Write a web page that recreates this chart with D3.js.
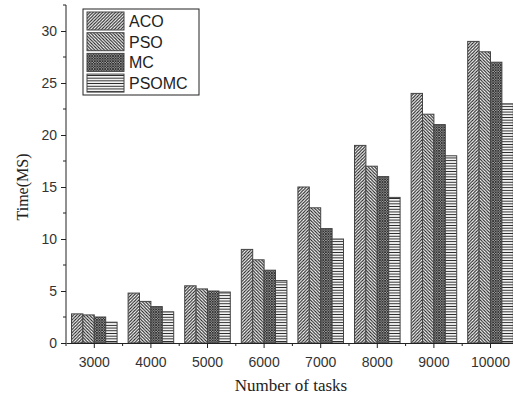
<!DOCTYPE html>
<html>
<head>
<meta charset="utf-8">
<script src="https://cdn.jsdelivr.net/npm/d3@7"></script>
<style>
  body { margin: 0; background: white; }
</style>
</head>
<body>
<div id="container"></div>
<script>
let w = 513;
let h = 397;

// data
let tasks = ["3000", "4000", "5000", "6000", "7000", "8000", "9000", "10000"];
let seriesNames = ["ACO", "PSO", "MC", "PSOMC"];
let aco = [2.8, 4.8, 5.5, 9, 15, 19, 24, 29];
let pso = [2.7, 4.0, 5.2, 8, 13, 17, 22, 28];
let mc = [2.5, 3.5, 5.0, 7, 11, 16, 21, 27];
let psomc = [2.0, 3.0, 4.9, 6, 10, 14, 18, 23];
let yTicks = [0, 5, 10, 15, 20, 25, 30];

let allSeries = [aco, pso, mc, psomc];
let ink = "#333";

let viz = d3.select("#container")
  .append("svg")
    .attr("width", w)
    .attr("height", h)
    .style("background-color", "white")
;

let x0 = 66, y0 = 343;

let x = d3.scaleBand().domain(tasks).range([x0, x0 + 8 * 56.6]).padding(0);
let xs = d3.scaleBand().domain(seriesNames).range([-22.8, 22.8]).padding(0);
let y = d3.scaleLinear().domain([0, 32.5]).range([y0, 5]);

// hatch patterns
let defs = viz.append("defs");
function pat(id, size, d, sw) {
  let p = defs.append("pattern")
    .attr("id", id)
    .attr("patternUnits", "userSpaceOnUse")
    .attr("width", size)
    .attr("height", size);
  p.append("rect").attr("width", size).attr("height", size).attr("fill", "white");
  p.append("path").attr("d", d).attr("stroke", "#222").attr("stroke-width", sw).attr("fill", "none");
}
pat("p0", 3.2, "M-1,1 l2,-2 M0,3.2 l3.2,-3.2 M2.2,4.2 l2,-2", 1.1);
pat("p1", 3.2, "M-1,2.2 l2,2 M0,0 l3.2,3.2 M2.2,-1 l2,2", 1.1);
pat("p2", 2.6, "M-1,1 l2,-2 M0,2.6 l2.6,-2.6 M1.6,3.6 l2,-2 M-1,1.6 l2,2 M0,0 l2.6,2.6 M1.6,-1 l2,2", 0.9);
pat("p3", 2.7, "M0,1.35 H2.7", 1);

// bars
let groups = viz.selectAll(".grp").data(tasks).enter()
  .append("g")
    .attr("class", "grp")
    .attr("transform", d => "translate(" + (x(d) + x.bandwidth() / 2) + ",0)")
;
seriesNames.forEach((s, si) => {
  groups.append("rect")
    .attr("x", xs(s))
    .attr("y", (d, i) => y(allSeries[si][i]))
    .attr("width", xs.bandwidth())
    .attr("height", (d, i) => y0 - y(allSeries[si][i]))
    .attr("fill", "url(#p" + si + ")")
    .attr("stroke", "#444")
    .attr("stroke-width", 1)
  ;
});

// y axis
let yAxis = d3.axisLeft(y).tickValues(yTicks).tickSize(5).tickPadding(4);
let gy = viz.append("g").attr("transform", "translate(" + x0 + ",0)").call(yAxis);
gy.selectAll(".tick line").attr("stroke", "#222");
gy.select(".domain").attr("stroke", "#222").attr("d", "M0," + y(32.5) + "V" + y0);
gy.selectAll("text").attr("font-family", "Liberation Sans, Arial").attr("font-size", 14).attr("fill", ink);
gy.selectAll(".minor").data([2.5, 7.5, 12.5, 17.5, 22.5, 27.5, 32.5]).enter()
  .append("line")
    .attr("class", "minor")
    .attr("x1", -3).attr("x2", 0)
    .attr("y1", d => y(d)).attr("y2", d => y(d))
    .attr("stroke", "#222")
;

// x axis
let xAxis = d3.axisBottom(x).tickSize(5).tickPadding(9).tickSizeOuter(0);
let gx = viz.append("g").attr("transform", "translate(0," + y0 + ")").call(xAxis);
gx.selectAll(".tick line").attr("stroke", "#222");
gx.select(".domain").attr("stroke", "#222");
gx.selectAll("text").attr("font-family", "Liberation Sans, Arial").attr("font-size", 14).attr("fill", ink);
gx.selectAll(".minor").data(tasks).enter()
  .append("line")
    .attr("class", "minor")
    .attr("x1", d => x(d)).attr("x2", d => x(d))
    .attr("y1", 0).attr("y2", 3)
    .attr("stroke", "#222")
;

// axis titles
viz.append("text")
  .text("Time(MS)")
  .attr("transform", "translate(28,187) rotate(-90)")
  .attr("text-anchor", "middle")
  .attr("font-family", "Liberation Serif, Times New Roman")
  .attr("font-size", 16)
  .attr("fill", "#222")
;
viz.append("text")
  .text("Number of tasks")
  .attr("x", 291)
  .attr("y", 391)
  .attr("text-anchor", "middle")
  .attr("font-family", "Liberation Serif, Times New Roman")
  .attr("font-size", 17)
  .attr("fill", "#222")
;

// legend
let legend = viz.append("g").attr("transform", "translate(83,9)");
legend.append("rect")
  .attr("width", 116).attr("height", 86)
  .attr("fill", "white").attr("stroke", "#222").attr("stroke-width", 1)
;
let items = legend.selectAll(".item").data(seriesNames).enter()
  .append("g")
    .attr("class", "item")
    .attr("transform", (d, i) => "translate(4," + (3 + i * 20.7) + ")")
;
items.append("rect")
  .attr("width", 37).attr("height", 18)
  .attr("fill", (d, i) => "url(#p" + i + ")")
  .attr("stroke", "#444")
;
items.append("text")
  .text(d => d)
  .attr("x", 42)
  .attr("y", 15)
  .attr("font-family", "Liberation Sans, Arial")
  .attr("font-size", 16)
  .attr("fill", "#222")
;
</script>
</body>
</html>
